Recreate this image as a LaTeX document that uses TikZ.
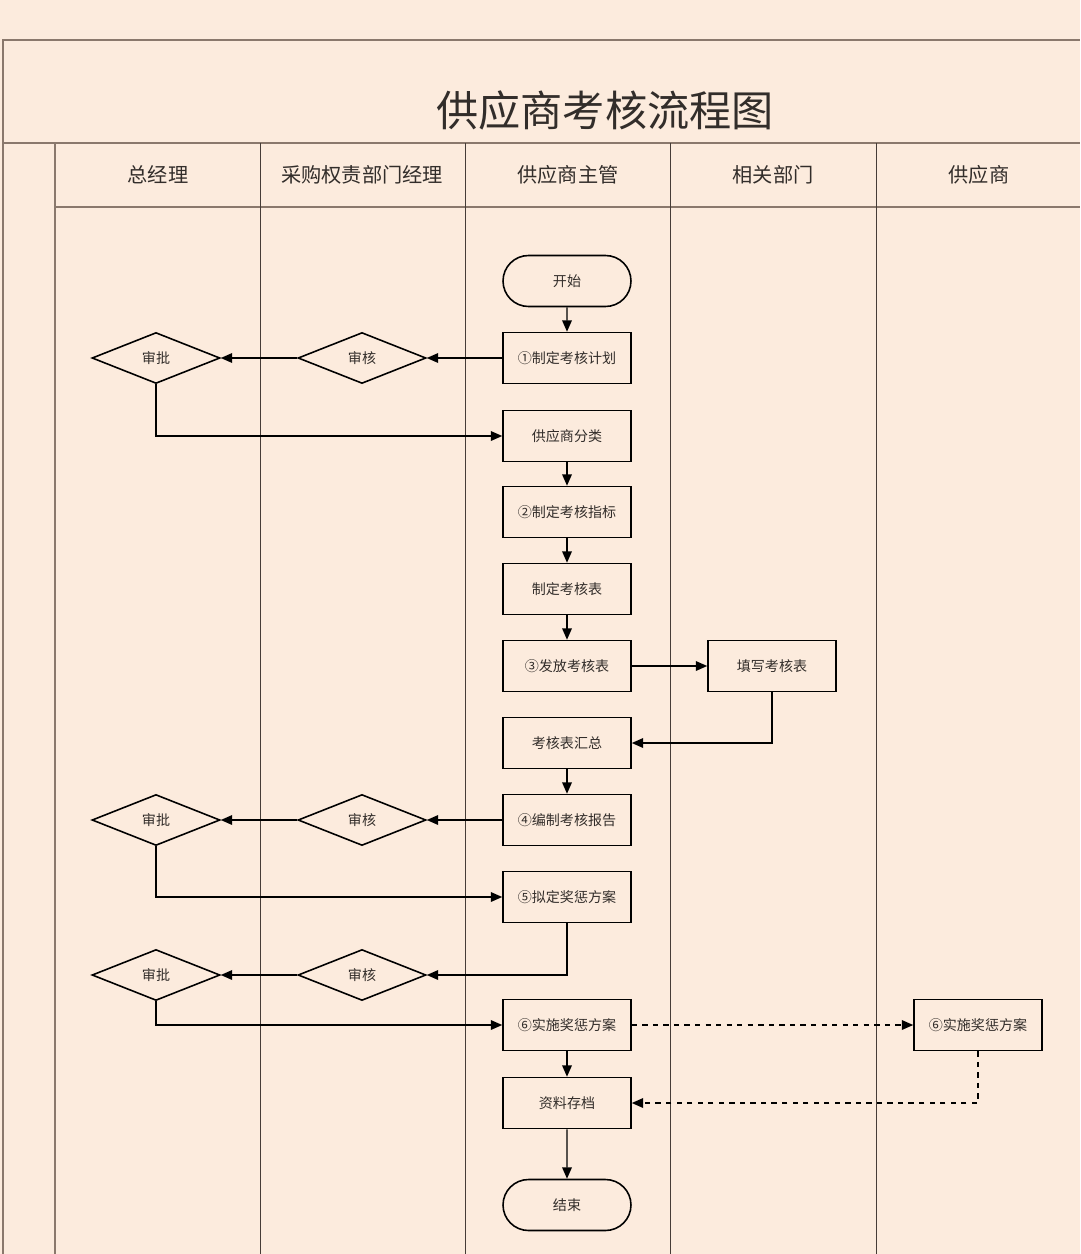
\documentclass[tikz,border=0pt]{standalone}
\usepackage{fontspec}
\setmainfont{Noto Sans CJK SC}
\usepackage{xcolor}
\usetikzlibrary{shapes.geometric, shapes.misc, arrows.meta, positioning}
\definecolor{paper}{RGB}{252,235,221}
\definecolor{frameline}{RGB}{138,120,108}
\definecolor{laneline}{RGB}{70,60,55}
\definecolor{inktext}{RGB}{50,45,42}

\begin{document}
\begin{tikzpicture}[
        x=0.02cm, y=-0.02cm,
        line join=miter,
        process/.style={draw, line width=0.9pt, minimum width=2.56cm,
            minimum height=1.02cm, inner sep=0pt, text=inktext,
            font=\fontsize{8}{9}\selectfont},
        terminal/.style={process, rounded rectangle},
        decision/.style={process, diamond, aspect=2.5},
        flow/.style={line width=0.8pt, -{Triangle[length=6.5pt,width=5.5pt]}},
        lane/.style={draw=laneline, line width=0.45pt},
        frame/.style={draw=frameline, line width=0.8pt},
        lanehead/.style={text=inktext, font=\fontsize{11.5}{12}\selectfont},
    ]

    % page and margins
    \fill[paper] (0,0) rectangle (1080,1254);
    \useasboundingbox (0,0) rectangle (1080,1254);

    \def\ytitle{40}
    \def\yhead{143}
    \def\ybody{207}
    \def\ybottom{1254}

    % frame
    \draw[frame] (3,\ybottom) -- (3,\ytitle) -- (1080,\ytitle);
    \draw[frame] (3,\yhead) -- (1080,\yhead);
    \draw[frame] (55,\ybody) -- (1080,\ybody);
    \draw[frame] (55,\yhead) -- (55,\ybottom);
    \foreach \xl in {260,465,670,876}
        \draw[lane] (\xl,\yhead) -- (\xl,\ybottom);

    \node[font=\fontsize{24}{26}\selectfont, text=inktext] (title) at (605,110) {供应商考核流程图};

    % lane headings
    \node[lanehead] (hgm)   at (158,175) {总经理};
    \node[lanehead] (hbuy)  at (362,175) {采购权责部门经理};
    \node[lanehead] (hsup)  at (568,175) {供应商主管};
    \node[lanehead] (hdept) at (773,175) {相关部门};
    \node[lanehead] (hvend) at (979,175) {供应商};

    \def\xgm{156}
    \def\xbuy{362}
    \def\xmain{567}
    \def\xdept{772}
    \def\xvend{978}

    % nodes
    \node[terminal] (start)    at (\xmain,281)  {开始};
    \node[process]  (plan)     at (\xmain,358)  {①制定考核计划};
    \node[decision] (rev1)     at (\xbuy,358)   {审核};
    \node[decision] (app1)     at (\xgm,358)    {审批};
    \node[process]  (classify) at (\xmain,436)  {供应商分类};
    \node[process]  (index)    at (\xmain,512)  {②制定考核指标};
    \node[process]  (form)     at (\xmain,589)  {制定考核表};
    \node[process]  (issue)    at (\xmain,666)  {③发放考核表};
    \node[process]  (fill)     at (\xdept,666)  {填写考核表};
    \node[process]  (summary)  at (\xmain,743)  {考核表汇总};
    \node[process]  (report)   at (\xmain,820)  {④编制考核报告};
    \node[decision] (rev2)     at (\xbuy,820)   {审核};
    \node[decision] (app2)     at (\xgm,820)    {审批};
    \node[process]  (scheme)   at (\xmain,897)  {⑤拟定奖惩方案};
    \node[decision] (rev3)     at (\xbuy,975)   {审核};
    \node[decision] (app3)     at (\xgm,975)    {审批};
    \node[process]  (impl)     at (\xmain,1025) {⑥实施奖惩方案};
    \node[process]  (vimpl)    at (\xvend,1025) {⑥实施奖惩方案};
    \node[process]  (archive)  at (\xmain,1103) {资料存档};
    \node[terminal] (finish)   at (\xmain,1205) {结束};

    % connectors
    \draw[flow] (start) -- (plan);
    \draw[flow] (plan) -- (rev1);
    \draw[flow] (rev1) -- (app1);
    \draw[flow] (app1.south) |- (classify);
    \draw[flow] (classify) -- (index);
    \draw[flow] (index) -- (form);
    \draw[flow] (form) -- (issue);
    \draw[flow] (issue) -- (fill);
    \draw[flow] (fill.south) |- (summary);
    \draw[flow] (summary) -- (report);
    \draw[flow] (report) -- (rev2);
    \draw[flow] (rev2) -- (app2);
    \draw[flow] (app2.south) |- (scheme);
    \draw[flow] (scheme.south) |- (rev3);
    \draw[flow] (rev3) -- (app3);
    \draw[flow] (app3.south) |- (impl);
    \draw[flow, dashed] (impl) -- (vimpl);
    \draw[flow] (impl) -- (archive);
    \draw[flow, dashed] (vimpl.south) |- (archive);
    \draw[flow] (archive) -- (finish);

\end{tikzpicture}
\end{document}
